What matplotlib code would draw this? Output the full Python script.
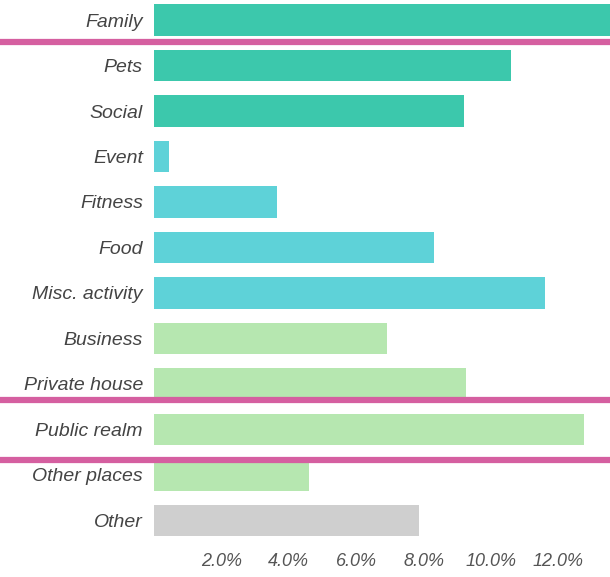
import matplotlib
matplotlib.use("Agg")
import matplotlib.pyplot as plt
from matplotlib.lines import Line2D
from matplotlib.transforms import blended_transform_factory

plt.rcParams["font.family"] = ["Liberation Sans", "DejaVu Sans"]

categories = ["Family", "Pets", "Social", "Event", "Fitness", "Food",
              "Misc. activity", "Business", "Private house", "Public realm",
              "Other places", "Other"]
values = [14.0, 10.6, 9.2, 0.45, 3.65, 8.3, 11.6, 6.9, 9.25, 12.75, 4.6, 7.85]
groups = ["who", "who", "who", "what", "what", "what", "what",
          "where", "where", "where", "where", "other"]
group_colors = {"who": "#3cc8ac", "what": "#5ed2d8",
                "where": "#b6e7b0", "other": "#cfcfcf"}
ticks = [2, 4, 6, 8, 10, 12]
tick_labels = ["2.0%", "4.0%", "6.0%", "8.0%", "10.0%", "12.0%"]
# separators drawn between these rows
separators = [0.48, 8.35, 9.67]

fig = plt.figure(figsize=(6.1, 5.77), dpi=100)
ax = fig.add_axes([154 / 610, 1 - 545 / 577, 1 - 154 / 610, 545 / 577])

y = list(range(len(categories)))
ax.barh(y, values, height=0.7, color=[group_colors[g] for g in groups])

ax.set_ylim(11.54, -0.44)
ax.set_xlim(0, 13.53)
ax.set_yticks(y)
ax.set_yticklabels(categories, fontsize=14, style="italic", color="#444444")
ax.set_xticks(ticks)
ax.set_xticklabels(tick_labels, fontsize=13, style="italic", color="#555555")
ax.tick_params(axis="both", length=0)
ax.tick_params(axis="y", pad=8)
ax.tick_params(axis="x", pad=6)
for s in ax.spines.values():
    s.set_visible(False)

trans = blended_transform_factory(fig.transFigure, ax.transData)
for s in separators:
    ln = Line2D([0, 1], [s, s], transform=trans, color="#d55fa0",
                linewidth=4.5, clip_on=False)
    ax.add_line(ln)

fig.savefig("out.png", dpi=100)
